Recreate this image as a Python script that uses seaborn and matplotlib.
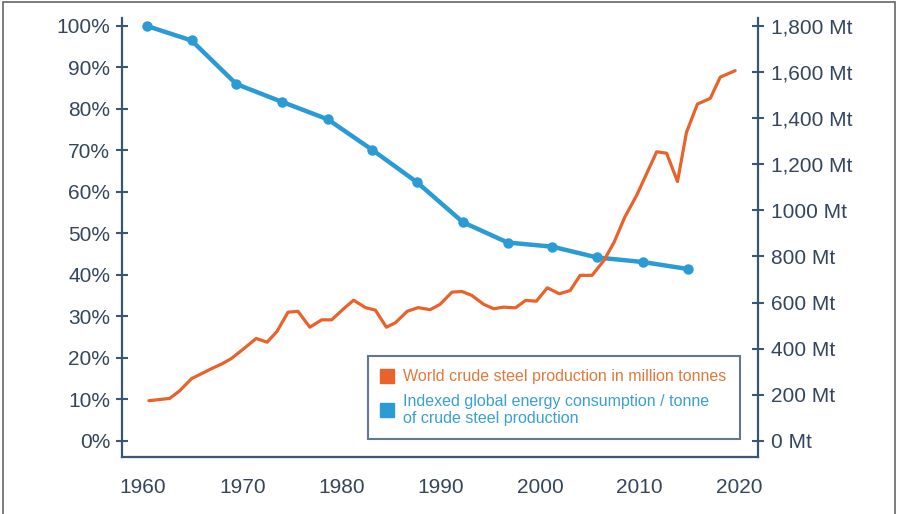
import matplotlib
matplotlib.use('Agg')
import matplotlib.pyplot as plt
import seaborn as sns
import pandas as pd
from matplotlib.lines import Line2D
from matplotlib.patches import Rectangle

# world crude steel production, Mt
steel_years = [1960.6, 1962.7, 1963.7, 1964.9, 1965.7, 1966.9, 1968.0, 1968.9, 1970.3, 1971.4,
               1972.5, 1973.5, 1974.6, 1975.6, 1976.8, 1978.0, 1979.0, 1980.2, 1981.2, 1982.4,
               1983.4, 1984.5, 1985.4, 1986.6, 1987.7, 1988.9, 1989.9, 1991.1, 1992.1, 1993.1,
               1994.3, 1995.3, 1996.3, 1997.5, 1998.5, 1999.6, 2000.7, 2001.9, 2003.0, 2004.0,
               2005.2, 2006.4, 2007.4, 2008.5, 2009.7, 2010.7, 2011.7, 2012.7, 2013.8, 2014.7,
               2015.8, 2017.1, 2018.1, 2019.6]
steel_mt = [174, 184, 217, 270, 287, 313, 335, 357, 405, 444,
            428, 475, 558, 562, 493, 525, 525, 573, 610, 578,
            567, 493, 512, 562, 578, 569, 592, 645, 648, 631,
            592, 573, 580, 577, 609, 606, 664, 638, 652, 718,
            718, 783, 860, 971, 1066, 1160, 1254, 1248, 1125, 1338,
            1461, 1486, 1578, 1606]

# indexed energy consumption per tonne, % (blue points)
energy_years = [1960.4, 1964.9, 1969.4, 1974.0, 1978.6, 1983.1, 1987.6, 1992.2,
                1996.7, 2001.2, 2005.7, 2010.3, 2014.9]
energy_index = [100, 96.5, 86.0, 81.7, 77.5, 70.1, 62.3, 52.7, 47.8, 46.8, 44.2, 43.1, 41.4]

year_ticks = [1960, 1970, 1980, 1990, 2000, 2010, 2020]
pct_ticks = [0, 10, 20, 30, 40, 50, 60, 70, 80, 90, 100]
pct_labels = [f'{p}%' for p in pct_ticks]
mt_ticks = [0, 200, 400, 600, 800, 1000, 1200, 1400, 1600, 1800]
mt_labels = ['0 Mt', '200 Mt', '400 Mt', '600 Mt', '800 Mt', '1000 Mt',
             '1,200 Mt', '1,400 Mt', '1,600 Mt', '1,800 Mt']

blue = '#2a9bd5'
orange = '#e8622a'
spine_col = '#3d5574'
label_col = '#34465e'

sns.set_style('white')
plt.rcParams['font.family'] = ['Liberation Sans', 'DejaVu Sans']

steel = pd.DataFrame({'year': steel_years, 'mt': steel_mt})
energy = pd.DataFrame({'year': energy_years, 'index': energy_index})

fig = plt.figure(figsize=(8.98, 5.14), dpi=100)
ax = fig.add_axes([0.1359, 0.1109, 0.7082, 0.8547])
ax2 = ax.twinx()

sns.lineplot(data=energy, x='year', y='index', ax=ax, color=blue, lw=3.2,
             marker='o', markersize=7.5, markeredgewidth=0)
sns.lineplot(data=steel, x='year', y='mt', ax=ax2, color=orange, lw=2.3)

ax.set_xlim(1957.9, 2021.9)
ax.set_ylim(-3.9, 102)
ax2.set_ylim(-3.9 * 18, 102 * 18)
ax.set_xlabel('')
ax.set_ylabel('')
ax2.set_ylabel('')

ax.set_xticks(year_ticks)
ax.set_yticks(pct_ticks)
ax.set_yticklabels(pct_labels)
ax2.set_yticks(mt_ticks)
ax2.set_yticklabels(mt_labels)

for a in (ax, ax2):
    for s in a.spines.values():
        s.set_visible(False)
        s.set_color(spine_col)
        s.set_linewidth(1.6)
ax.spines['left'].set_visible(True)
ax.spines['bottom'].set_visible(True)
ax2.spines['right'].set_visible(True)

ax.tick_params(axis='x', direction='out', length=8, width=1.5, color=spine_col,
               labelsize=15, labelcolor=label_col, pad=7)
ax.tick_params(axis='y', direction='inout', length=9, width=1.5, color=spine_col,
               labelsize=15, labelcolor=label_col, pad=4, left=True)
ax2.tick_params(axis='y', direction='inout', length=9, width=1.5, color=spine_col,
                labelsize=15, labelcolor=label_col, pad=5, right=True)

handles = [Line2D([], [], marker='s', color=orange, ls='none', markersize=10),
           Line2D([], [], marker='s', color=blue, ls='none', markersize=10)]
labels = ['World crude steel production in million tonnes',
          'Indexed global energy consumption / tonne\nof crude steel production']
leg = ax2.legend(handles, labels, loc='lower left', bbox_to_anchor=(0.387, 0.041, 0.585, 0.196),
                 mode='expand', frameon=True, fancybox=False, edgecolor=spine_col,
                 fontsize=11.5, labelcolor=['#e2793a', '#3aa0d0'], handlelength=0.8,
                 handletextpad=0.6, borderaxespad=0, borderpad=0.8, labelspacing=0.6)
leg.get_frame().set_linewidth(1.5)

fig.patches.append(Rectangle((0.003, -0.05), 0.994, 1.046, transform=fig.transFigure,
                             fill=False, edgecolor='#666666', lw=1.2))

fig.savefig('out.png', dpi=100)
